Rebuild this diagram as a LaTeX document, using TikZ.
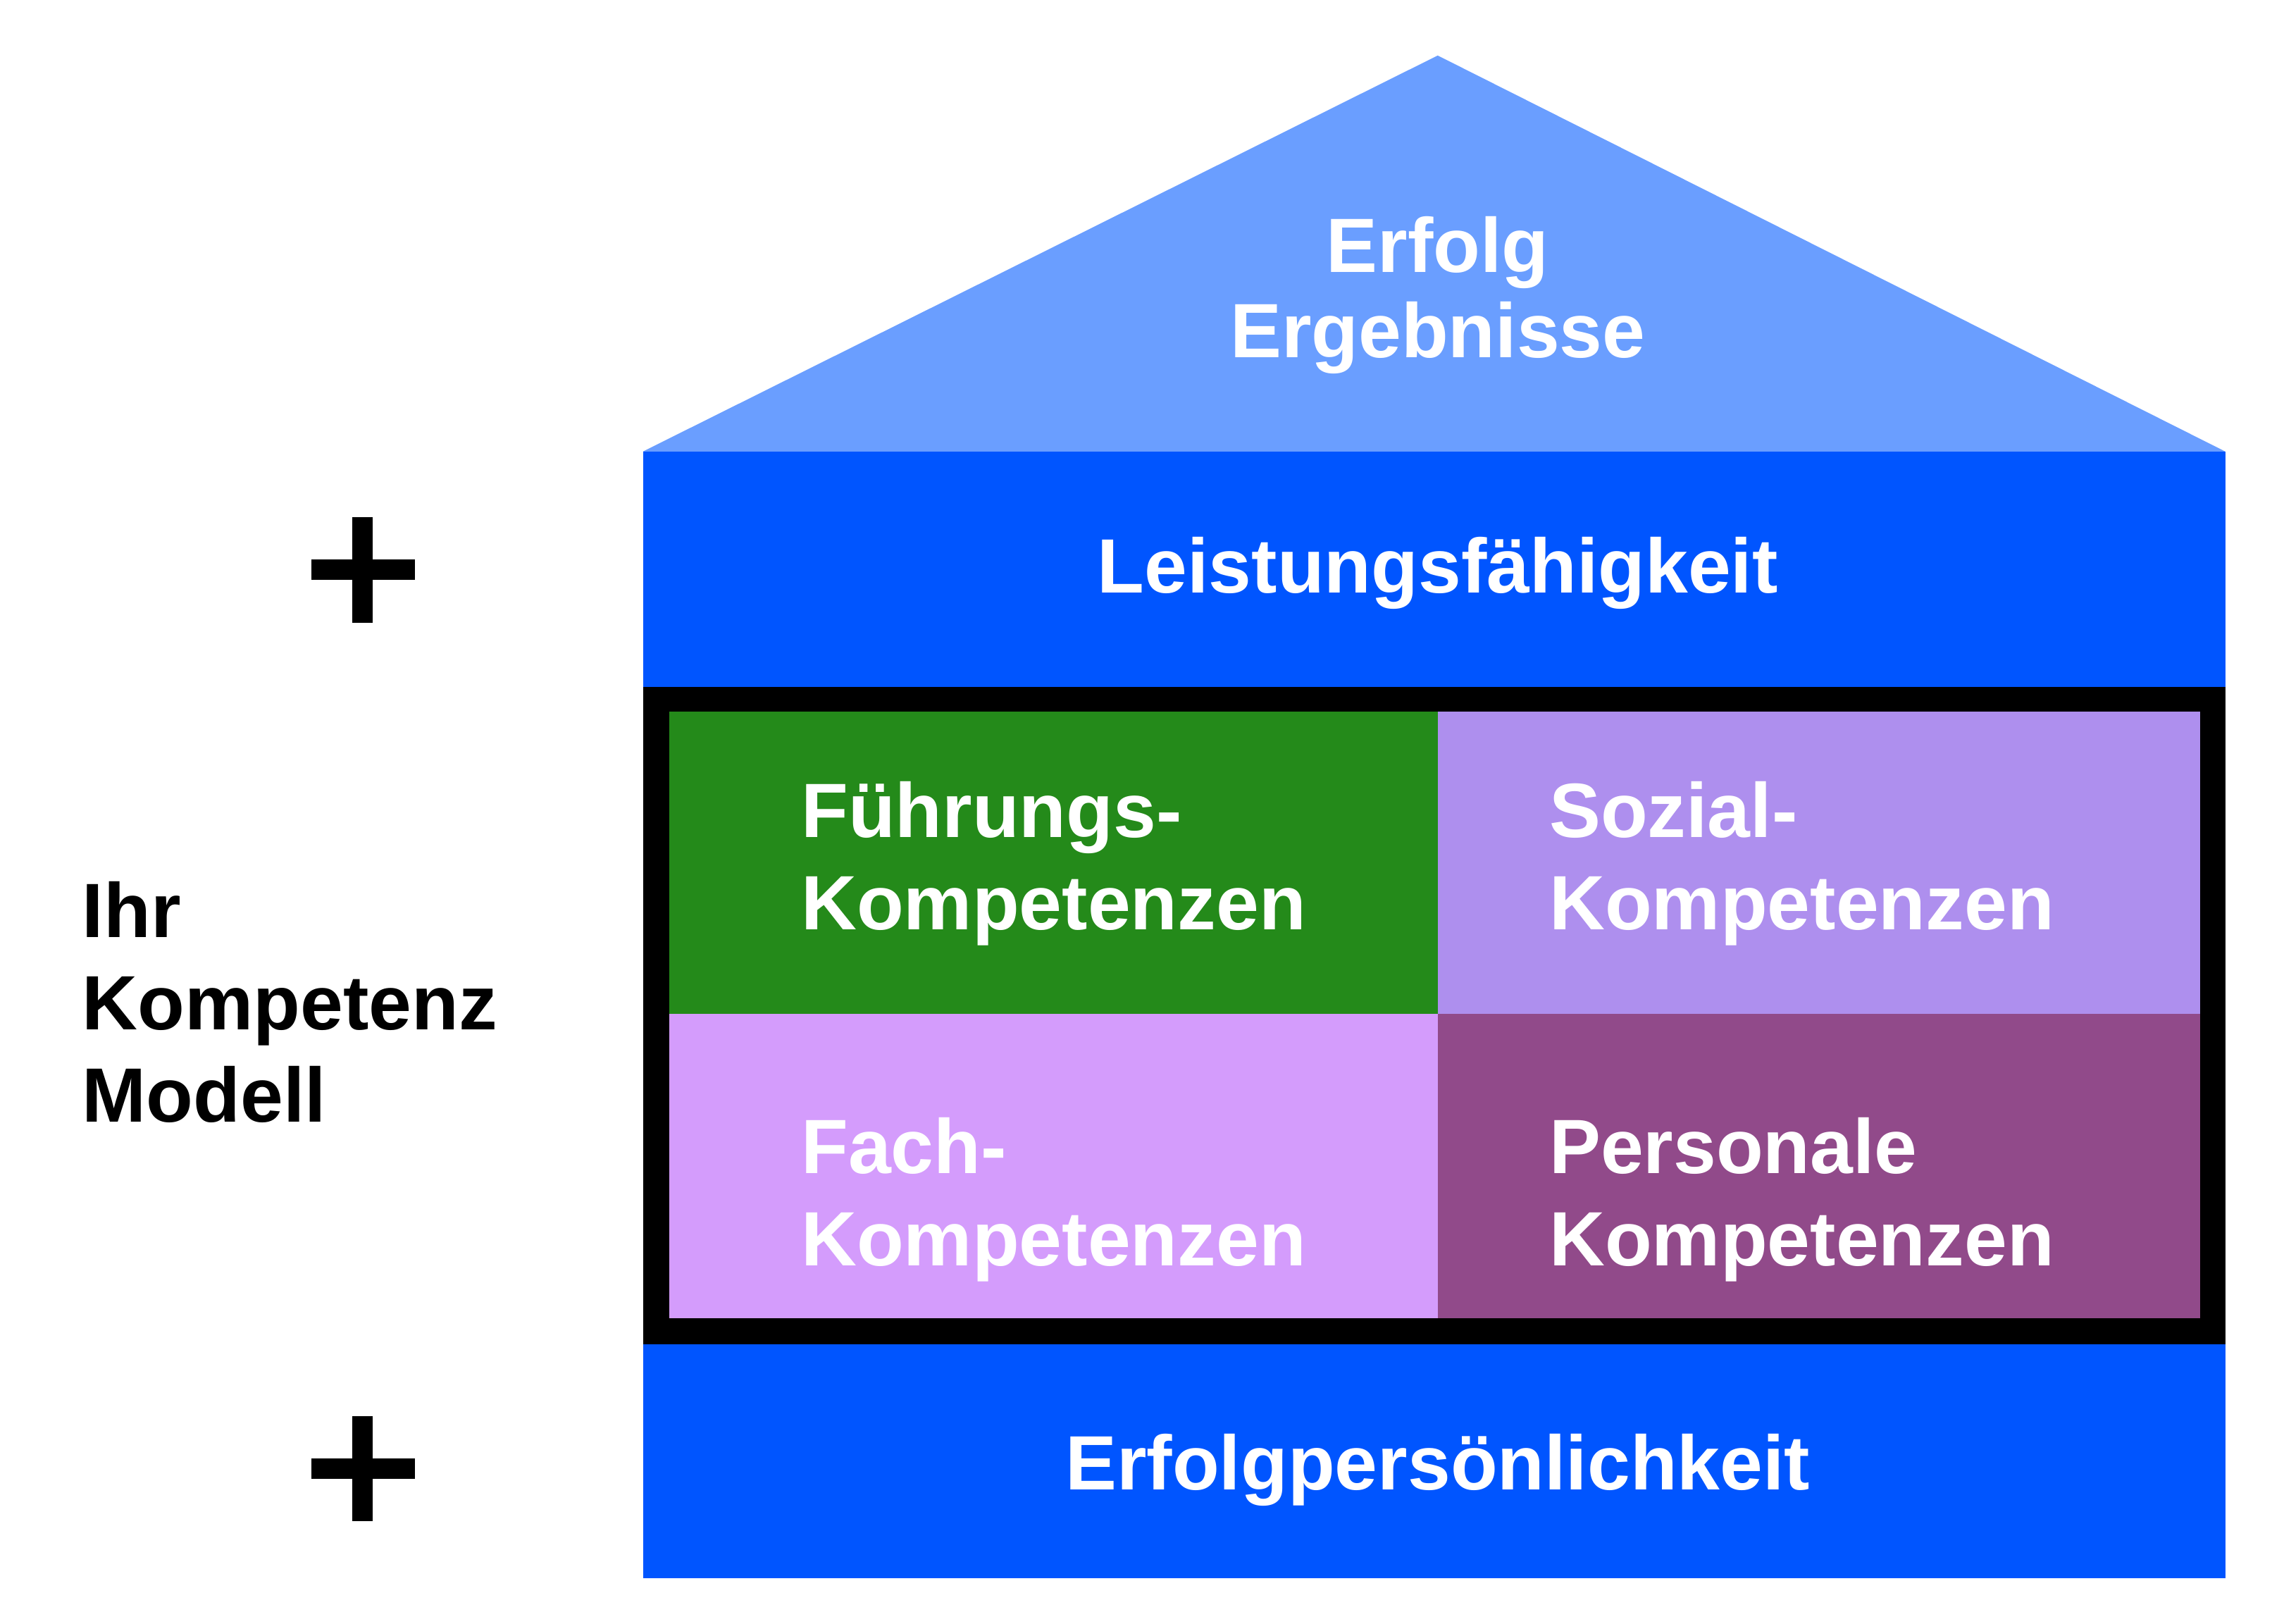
\documentclass[tikz,border=0pt]{standalone}
\usepackage{fontspec}
\setmainfont{Liberation Sans}
\usetikzlibrary{positioning}
\definecolor{roofblue}{HTML}{6A9EFF}
\definecolor{bandblue}{HTML}{0055FF}
\definecolor{fuehrgreen}{HTML}{248A1A}
\definecolor{sozlila}{HTML}{AE8FEE}
\definecolor{fachpink}{HTML}{D49CFC}
\definecolor{perspurple}{HTML}{914A8A}
\tikzset{
  big/.style={font=\fontsize{30}{36}\selectfont\bfseries, text=white, inner sep=0pt},
  cell/.style={font=\fontsize{30}{36}\selectfont\bfseries, text=white, align=left, anchor=west, inner sep=0pt},
}
\begin{document}
\begin{tikzpicture}[x=0.02cm,y=-0.02cm]
\useasboundingbox (0,0) rectangle (1555,1111);
% Dach
\fill[roofblue] (440,309) -- (984,38) -- (1523,309) -- cycle;
\node[big, align=center] (roof) at (984,202) {Erfolg\\[-0.1em]Ergebnisse};
% Baender
\fill[bandblue] (440,309) rectangle (1523,470);
\node[big] (leist) at (984,392) {Leistungsfähigkeit};
\fill[bandblue] (440,920) rectangle (1523,1080);
\node[big] (erfolg) at (984,1006) {Erfolgpersönlichkeit};
% Kompetenzfelder
\fill[black] (440,470) rectangle (1523,920);
\fill[fuehrgreen] (458,487) rectangle (984,694);
\fill[sozlila] (984,487) rectangle (1506,694);
\fill[fachpink] (458,694) rectangle (984,902);
\fill[perspurple] (984,694) rectangle (1506,902);
\node[cell] (fuehr) at (548,591) {Führungs-\\Kompetenzen};
\node[cell] (sozial) at (1060,591) {Sozial-\\Kompetenzen};
\node[cell] (fach) at (548,821) {Fach-\\Kompetenzen};
\node[cell] (pers) at (1060,821) {Personale\\Kompetenzen};
% links
\node[cell, text=black] (modell) at (56,686) {Ihr\\Kompetenz\\Modell};
\foreach \y in {390,1005} {
  \draw[line width=0.28cm] (213,\y) -- (284,\y);
  \draw[line width=0.28cm] (248,\y-36) -- (248,\y+36);
}
\end{tikzpicture}
\end{document}
